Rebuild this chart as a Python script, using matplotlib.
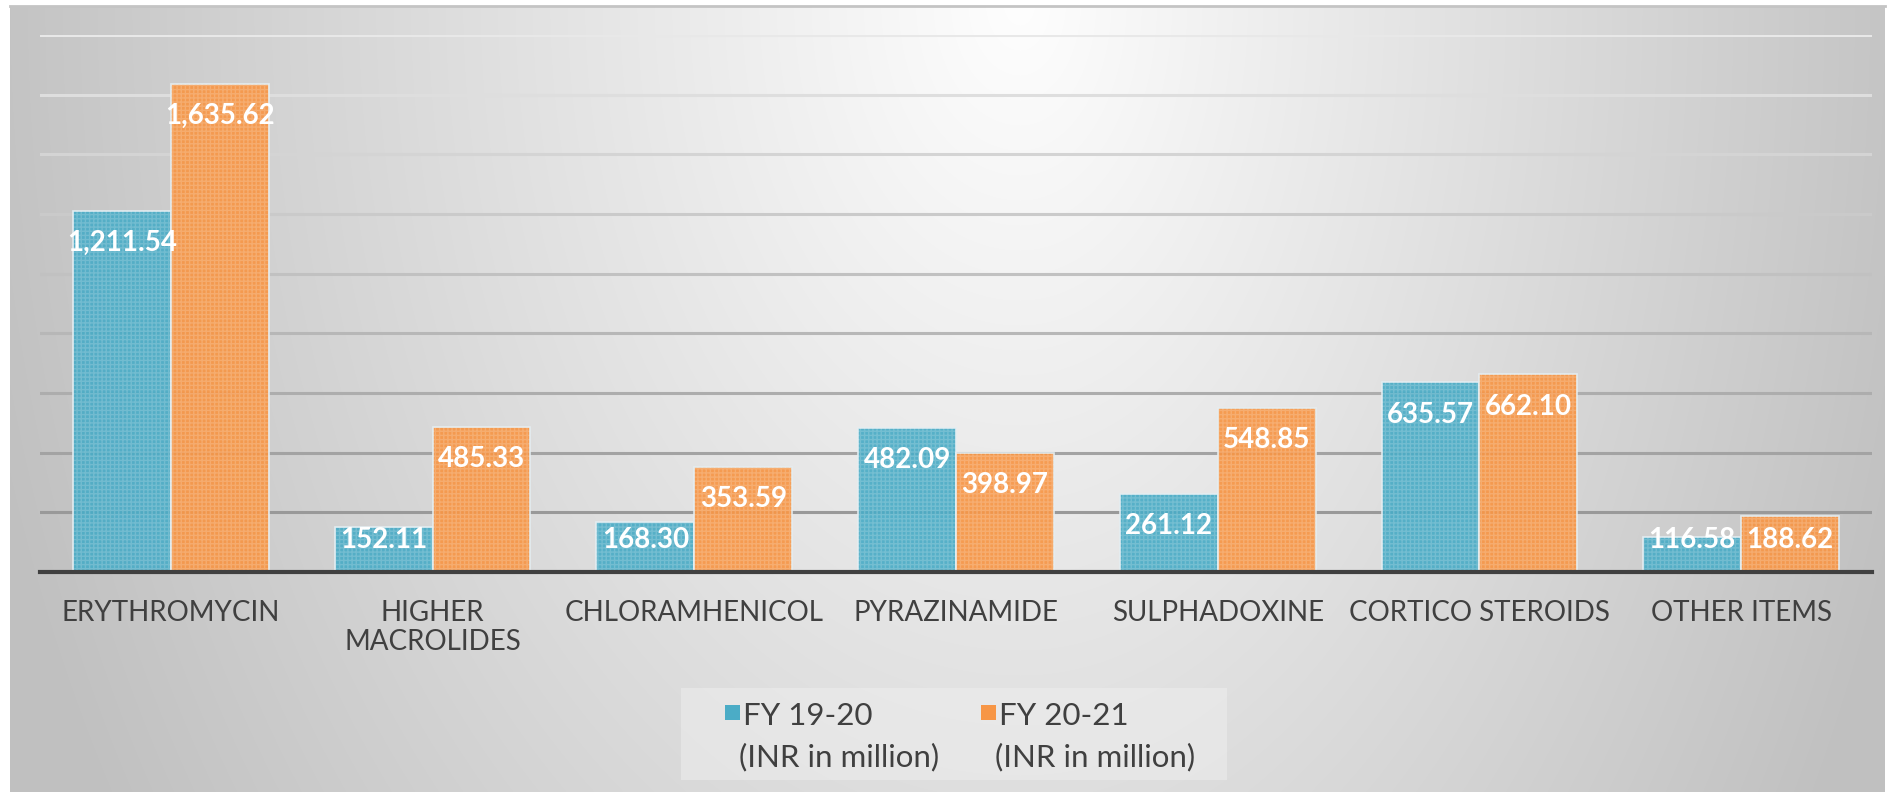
import numpy as np
import matplotlib
matplotlib.use("Agg")
import matplotlib.pyplot as plt
from matplotlib.patches import Rectangle

plt.rcParams['font.family'] = ['Lato', 'DejaVu Sans']

categories = ["ERYTHROMYCIN", "HIGHER\nMACROLIDES", "CHLORAMHENICOL", "PYRAZINAMIDE",
              "SULPHADOXINE", "CORTICO STEROIDS", "OTHER ITEMS"]
fy1920 = [1211.54, 152.11, 168.30, 482.09, 261.12, 635.57, 116.58]
fy2021 = [1635.62, 485.33, 353.59, 398.97, 548.85, 662.10, 188.62]
series_names = ["FY 19-20", "FY 20-21"]
series_unit = "(INR in million)"
colors = ["#4BACC6", "#F79646"]
grid_values = list(range(200, 1801, 200))

W, H = 1887, 792
fig = plt.figure(figsize=(W / 100, H / 100), dpi=100, facecolor="white")


def fx(px):
    return px / W


def fy(py):
    return 1 - py / H


# background gradient panel
bx0, by0 = 10, 6
bg = fig.add_axes([bx0 / W, 0, (1885 - bx0) / W, (H - by0) / H], zorder=0)
xs = np.arange(bx0, 1885)
ys = np.arange(by0, H)
X, Y = np.meshgrid(xs, ys)
cx = 1020.0
rx = np.where(X < cx, 1010.0, 880.0)
R = np.sqrt(((X - cx) / rx) ** 2 + (Y / 1450.0) ** 2)
val = np.clip(254 - 58 * R, 192, 255) / 255.0
img = np.dstack([val, val, val])
bg.imshow(img, aspect="auto", interpolation="bilinear", extent=[0, 1, 0, 1])
bg.set_xlim(0, 1); bg.set_ylim(0, 1)
bg.axis("off")
bg.plot([0, 1], [1, 1], color="#c4c4c4", lw=2.0, transform=bg.transAxes, clip_on=False)

# main axes
x0_px, x1_px = 40, 1872
base_px, top_px = 572, 35
ax = fig.add_axes([x0_px / W, 1 - base_px / H, (x1_px - x0_px) / W, (base_px - top_px) / H], zorder=2)
ax.patch.set_alpha(0)
ax.set_ylim(0, 1800)
ax.set_xlim(-0.5, len(categories) - 0.5)

# gridlines with vertical color shift (light at top, darker at bottom)
for gv in grid_values:
    t = (gv - 200) / 1600.0
    c = 0.60 + t * (0.91 - 0.60)
    ax.axhline(gv, color=(c, c, c), lw=2.2, zorder=1)

xpos = np.arange(len(categories))
bw = 0.374
for i, (vals, col) in enumerate(zip([fy1920, fy2021], colors)):
    pos = xpos + (i - 0.5) * bw
    ax.bar(pos, vals, width=bw, color=col, alpha=0.93, edgecolor="#e4eef2", linewidth=1.2, zorder=2)
    ax.bar(pos, vals, width=bw, facecolor="none", edgecolor=(1, 1, 1, 0.18), linewidth=0,
           hatch="++++", zorder=3)
    off = 108
    for p, v in zip(pos, vals):
        ly = max(v - off, off)
        ax.text(p, ly, f"{v:,.2f}", ha="center", va="center", color="white",
                fontsize=20, fontweight="bold", zorder=5)

for s in ["top", "right", "left"]:
    ax.spines[s].set_visible(False)
ax.spines["bottom"].set_color("#404040")
ax.spines["bottom"].set_linewidth(3.0)
ax.spines["bottom"].set_zorder(6)
ax.set_yticks([])
ax.set_xticks(xpos)
ax.set_xticklabels(categories, fontsize=20, color="#404040", linespacing=1.15)
ax.tick_params(axis="x", length=0, pad=20)

# legend (drawn manually so the swatch sits on the first line)
fig.patches.append(Rectangle((fx(681), fy(780)), fx(1227) - fx(681), fy(688) - fy(780),
                             transform=fig.transFigure, facecolor="#eeeeee", alpha=0.55,
                             edgecolor="none", zorder=3))
sw = 15
for name, col, mx, tx in zip(series_names, colors, [725, 981], [743, 999]):
    fig.patches.append(Rectangle((fx(mx), fy(720)), fx(sw), sw / H,
                                 transform=fig.transFigure, facecolor=col,
                                 edgecolor="none", zorder=4))
    fig.text(fx(tx), fy(725), name, fontsize=22.5, color="#404040", ha="left", va="baseline", zorder=5)
    fig.text(fx(tx - 4), fy(766), series_unit, fontsize=22.5, color="#404040", ha="left", va="baseline", zorder=5)

fig.savefig("out.png", dpi=100, facecolor="white")
